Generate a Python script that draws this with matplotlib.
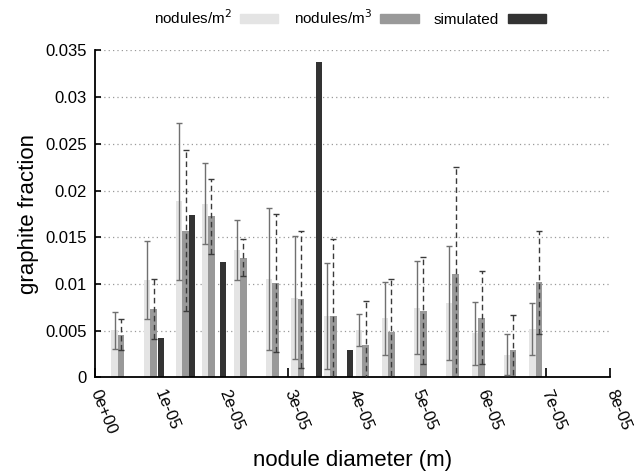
import numpy as np
import matplotlib
matplotlib.use('Agg')
from matplotlib import pyplot as plt
from matplotlib.patches import Patch
from matplotlib.ticker import FuncFormatter, MultipleLocator

plt.rcParams['font.family'] = ['Liberation Sans', 'DejaVu Sans']

# measured bins: centre positions (m) and graphite fractions with errors
diam = [0.356e-5, 0.862e-5, 1.359e-5, 1.758e-5, 2.255e-5, 2.756e-5, 3.151e-5,
        3.652e-5, 4.154e-5, 4.553e-5, 5.050e-5, 5.551e-5, 5.955e-5, 6.447e-5,
        6.846e-5]
frac_m2 = [0.00505, 0.01043, 0.01887, 0.01862, 0.01365, 0.01058, 0.00855,
           0.00660, 0.00512, 0.00635, 0.00747, 0.00801, 0.00472, 0.00244,
           0.00519]
err_m2 = [0.0020, 0.0042, 0.0084, 0.0043, 0.0032, 0.0076, 0.0066,
          0.0057, 0.0017, 0.0039, 0.0050, 0.0061, 0.0034, 0.0022, 0.0028]
frac_m3 = [0.00460, 0.00733, 0.01572, 0.01727, 0.01281, 0.01008, 0.00835,
           0.00656, 0.00346, 0.00489, 0.00715, 0.01104, 0.00640, 0.00298,
           0.01017]
err_m3 = [0.0017, 0.0032, 0.0086, 0.0040, 0.0020, 0.0074, 0.0073,
          0.0083, 0.0047, 0.0057, 0.0057, 0.0115, 0.0050, 0.0037, 0.0055]

# simulated distribution
diam_sim = [1.028e-5, 1.509e-5, 1.986e-5, 3.481e-5, 3.963e-5]
frac_sim = [0.00428, 0.01741, 0.01234, 0.03374, 0.00293]

light = '#e4e4e4'
mid = '#999999'
dark = '#333333'
w = 1.0e-6

fig = plt.figure(figsize=(6.37, 4.74), dpi=100)
ax = fig.add_axes([0.1491, 0.2036, 0.8085, 0.6899])

x = np.array(diam)
ax.bar(x - w / 2, frac_m2, width=w, color=light, zorder=2)
ax.bar(x + w / 2, frac_m3, width=w, color=mid, zorder=2)
ax.bar(diam_sim, frac_sim, width=w, color=dark, zorder=2)

eb1 = ax.errorbar(x - w / 2, frac_m2, yerr=err_m2, fmt='none', ecolor='#707070',
                  elinewidth=1.0, capsize=2.0, capthick=1.0, zorder=3)
eb2 = ax.errorbar(x + w / 2, frac_m3, yerr=err_m3, fmt='none', ecolor='#3a3a3a',
                  elinewidth=1.0, capsize=2.0, capthick=1.0, zorder=3)
eb2[2][0].set_linestyle((0, (4, 2.5)))

ax.set_xlim(0, 8e-5)
ax.set_ylim(0, 0.035)
ax.xaxis.set_major_locator(MultipleLocator(1e-5))
ax.yaxis.set_major_locator(MultipleLocator(0.005))
ax.xaxis.set_major_formatter(FuncFormatter(lambda v, p: '%.0e' % v))
ax.yaxis.set_major_formatter(FuncFormatter(lambda v, p: '%g' % round(v, 4)))

ax.set_axisbelow(True)
ax.yaxis.grid(True, linestyle=(0, (1, 2.5)), color='#9a9a9a', linewidth=0.9)
for s in ['top', 'right']:
    ax.spines[s].set_visible(False)
for s in ['left', 'bottom']:
    ax.spines[s].set_linewidth(1.3)

ax.tick_params(axis='y', direction='in', length=4, width=1.2, labelsize=12, pad=6)
ax.tick_params(axis='x', direction='in', length=6.5, width=1.2, labelsize=12, pad=9)
for lab in ax.get_xticklabels():
    lab.set_rotation(-68)
    lab.set_ha('left')
    lab.set_va('center')
    lab.set_rotation_mode('anchor')

ax.set_ylabel('graphite fraction', fontsize=16, labelpad=4)
ax.set_xlabel('nodule diameter (m)', fontsize=16, labelpad=10)

handles = [Patch(color=light), Patch(color=mid), Patch(color=dark)]
labels = ['nodules/m$^2$', 'nodules/m$^3$', 'simulated']
fig.legend(handles, labels, loc='center', bbox_to_anchor=(0.549, 0.963), ncol=3,
           frameon=False, markerfirst=False, fontsize=11, handlelength=2.5,
           handleheight=0.45, columnspacing=1.0, handletextpad=0.55)

fig.savefig('out.png', dpi=100)
